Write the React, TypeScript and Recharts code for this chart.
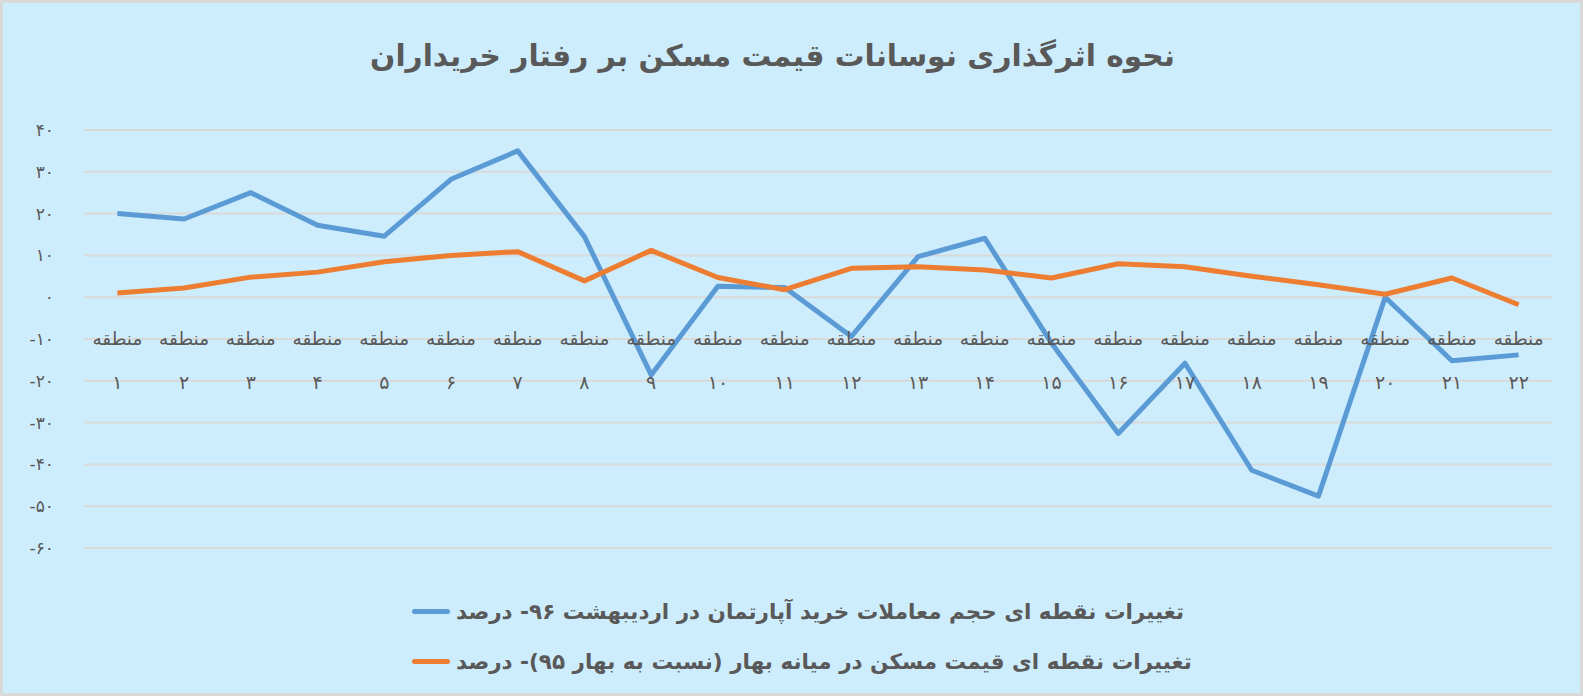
import React from "react";
import {
  LineChart,
  Line,
  XAxis,
  YAxis,
  CartesianGrid,
  Legend,
} from "recharts";

const regions = [1, 2, 3, 4, 5, 6, 7, 8, 9, 10, 11, 12, 13, 14, 15, 16, 17, 18, 19, 20, 21, 22];

const tradeVolume = [
  20, 18.7, 25, 17.2, 14.6, 28.2, 35, 14.5, -18.6, 2.6, 2.3, -9.4, 9.7, 14.1, -11, -32.6, -15.8,
  -41.4, -47.6, 0, -15.2, -13.8,
];

const priceChange = [
  1, 2.2, 4.8, 6, 8.5, 10, 10.9, 3.9, 11.2, 4.7, 1.8, 6.9, 7.3, 6.5, 4.6, 8, 7.3, 5, 3, 0.7, 4.6, -1.8,
];

const yTicks = [40, 30, 20, 10, 0, -10, -20, -30, -40, -50, -60];

const title = "نحوه اثرگذاری نوسانات قیمت مسکن بر رفتار خریداران";
const seriesNames = [
  "تغییرات نقطه ای حجم معاملات خرید آپارتمان در اردیبهشت ۹۶- درصد",
  "تغییرات نقطه ای قیمت مسکن در میانه بهار (نسبت به بهار ۹۵)- درصد",
];
const regionWord = "منطقه";

const data = regions.map((r, i) => ({
  region: r,
  trade: tradeVolume[i],
  price: priceChange[i],
}));

const faDigits = "۰۱۲۳۴۵۶۷۸۹";
const toFa = (n: number) =>
  String(n).replace(/[0-9]/g, (d) => faDigits[Number(d)]);

const W = 1577;
const H = 690;
const TOP = 127;
const BOTTOM = 145;
const LEFT = 81;
const RIGHT = 28;
const PLOT_H = H - TOP - BOTTOM;
const HALF_BAND = (W - LEFT - RIGHT) / regions.length / 2;
const Y_MIN = -60;
const Y_MAX = 40;
const zeroY = TOP + ((Y_MAX - 0) / (Y_MAX - Y_MIN)) * PLOT_H;

const textColor = "#595959";
const font = "'DejaVu Sans', sans-serif";

const RegionTick = (props: any) => {
  const { x, payload } = props;
  return (
    <g>
      <text
        x={x}
        y={zeroY + 41}
        textAnchor="middle"
        dominantBaseline="central"
        fill={textColor}
        fontSize={18.5}
        fontFamily={font}
      >
        {regionWord}
      </text>
      <text
        x={x}
        y={zeroY + 85}
        textAnchor="middle"
        dominantBaseline="central"
        fill={textColor}
        fontSize={19}
        fontFamily={font}
      >
        {toFa(payload.value)}
      </text>
    </g>
  );
};

const LegendRows = ({ payload }: any) => (
  <div style={{ display: "flex", flexDirection: "column", alignItems: "flex-start", marginLeft: 409 }}>
    {(payload || []).map((p: any, i: number) => (
      <div
        key={i}
        style={{ display: "flex", alignItems: "center", height: 50, gap: 6 }}
      >
        <span
          style={{
            display: "inline-block",
            width: 38,
            height: 5,
            borderRadius: 3,
            background: p.color,
          }}
        />
        <span
          dir="rtl"
          style={{
            fontFamily: font,
            fontWeight: "bold",
            fontSize: 21.5,
            color: textColor,
          }}
        >
          {p.value}
        </span>
      </div>
    ))}
  </div>
);

export default function App() {
  return (
    <div
      style={{
        position: "absolute",
        left: 0,
        top: 0,
        width: 1583,
        height: 696,
        boxSizing: "border-box",
        border: "3px solid #d9d9d9",
        background: "#cdedfd",
      }}
    >
      <div
        dir="rtl"
        style={{
          position: "absolute",
          top: 35,
          left: 0,
          width: "100%",
          textAlign: "center",
          fontFamily: font,
          fontWeight: "bold",
          fontSize: 29.7,
          color: textColor,
          paddingRight: 38,
          boxSizing: "border-box",
        }}
      >
        {title}
      </div>
      <LineChart
        width={W}
        height={H}
        data={data}
        margin={{ top: TOP, right: RIGHT, left: 0, bottom: BOTTOM - 30 }}
      >
        <CartesianGrid vertical={false} stroke="#d9d9d9" strokeWidth={2} />
        <XAxis
          dataKey="region"
          height={30}
          axisLine={false}
          tickLine={false}
          interval={0}
          padding={{ left: HALF_BAND, right: HALF_BAND }}
          tick={<RegionTick />}
        />
        <YAxis
          width={LEFT}
          domain={[Y_MIN, Y_MAX]}
          ticks={yTicks}
          interval={0}
          axisLine={false}
          tickLine={false}
          tickSize={0}
          tickMargin={30}
          tickFormatter={(v: number) => toFa(v)}
          tick={{ fill: textColor, fontSize: 17, fontFamily: font }}
        />
        <Legend
          layout="horizontal"
          verticalAlign="middle"
          align="center"
          wrapperStyle={{ top: 583, left: 0, width: W }}
          content={<LegendRows />}
        />
        <Line
          type="linear"
          dataKey="trade"
          name={seriesNames[0]}
          stroke="#5b9bd5"
          strokeWidth={5}
          dot={false}
          strokeLinejoin="round"
          isAnimationActive={false}
        />
        <Line
          type="linear"
          dataKey="price"
          name={seriesNames[1]}
          stroke="#ed7d31"
          strokeWidth={5}
          dot={false}
          strokeLinejoin="round"
          isAnimationActive={false}
        />
      </LineChart>
    </div>
  );
}
